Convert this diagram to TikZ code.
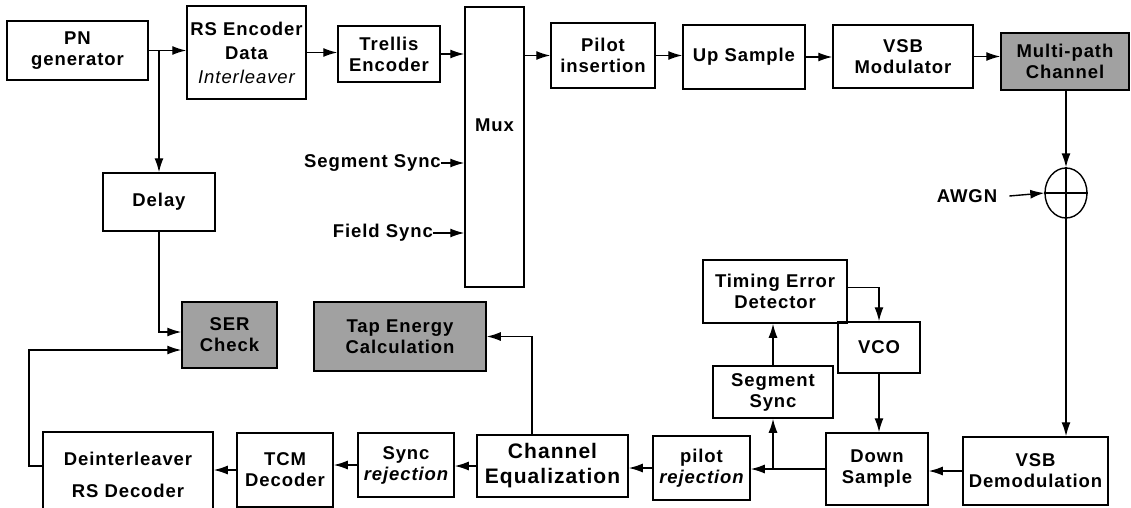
\documentclass[tikz,border=0pt]{standalone}
\usepackage{fontspec}
\setmainfont{Liberation Sans}[LetterSpace=5.0]
\usetikzlibrary{arrows.meta,shapes.geometric}
\begin{document}
\begin{tikzpicture}[x=1pt,y=-1pt,
  blk/.style={draw, line width=1.5pt, inner sep=1pt, align=center,
    font=\fontsize{18.5}{21}\selectfont\bfseries},
  shaded/.style={blk, fill=black!37},
  arr/.style={-{Latex[length=14pt,width=9pt]}, line width=1.4pt},
  wire/.style={line width=1.4pt},
  lbl/.style={inner sep=0pt, font=\fontsize{18.5}{21}\selectfont\bfseries}]
\useasboundingbox (0,0) rectangle (1131,508);

% transmitter chain
\node[blk, minimum width=141, minimum height=59] (pn) at (77.5,50.5) {PN\\generator};
\node[blk, minimum width=119, minimum height=93] (rs) at (246.5,52.5)
  {RS Encoder\\[3pt]Data\\[3pt]{\mdseries\itshape Interleaver}};
\node[blk, minimum width=102, minimum height=56] (trellis) at (389,54) {Trellis\\Encoder};
\node[blk, minimum width=59, minimum height=280] (mux) at (494.5,147) {};
\node[lbl] (muxlabel) at (494.5,125) {Mux};
\node[blk, minimum width=104, minimum height=65] (pilot) at (603,55.5) {Pilot\\insertion};
\node[blk, minimum width=122, minimum height=64] (up) at (744,57) {Up Sample};
\node[blk, minimum width=140, minimum height=63] (vsbmod) at (903,56.5) {VSB\\Modulator};
\node[shaded, minimum width=128, minimum height=57] (mpc) at (1065,61.5) {Multi-path\\Channel};

% noise adder
\node[draw, ellipse, line width=1.4pt, minimum width=42, minimum height=50, inner sep=0pt]
  (adder) at (1066,193) {};
\node[lbl] (awgn) at (967,196) {AWGN};

% sync inputs of the multiplexer
\node[lbl, anchor=east] (segin) at (441,163) {Segment Sync};
\node[lbl, anchor=east] (fieldin) at (433,233) {Field Sync};

% reference path and checks
\node[blk, minimum width=112, minimum height=58] (delay) at (159,202) {Delay};
\node[shaded, minimum width=95, minimum height=66] (ser) at (229.5,335) {SER\\Check};
\node[shaded, minimum width=172, minimum height=69] (tap) at (400,336.5) {Tap Energy\\Calculation};

% timing recovery
\node[blk, minimum width=144, minimum height=63] (ted) at (775,291.5) {Timing Error\\Detector};
\node[blk, minimum width=82, minimum height=51] (vco) at (879,347.5) {VCO};
\node[blk, minimum width=120, minimum height=52] (segsync) at (773,392) {Segment\\Sync};

% receiver chain
\node[blk, minimum width=170, minimum height=86] (deint) at (128,475)
  {Deinterleaver\\[11pt]RS Decoder};
\node[blk, minimum width=96, minimum height=74] (tcm) at (285,470) {TCM\\Decoder};
\node[blk, minimum width=96, minimum height=64] (syncrej) at (406,465)
  {Sync\\{\itshape rejection}};
\node[blk, minimum width=151, minimum height=62, font=\fontsize{21}{25}\selectfont\bfseries]
  (chaneq) at (552.5,466) {Channel\\Equalization};
\node[blk, minimum width=97, minimum height=64] (pilotrej) at (701.5,468)
  {pilot\\{\itshape rejection}};
\node[blk, minimum width=102, minimum height=72] (down) at (877,469) {Down\\Sample};
\node[blk, minimum width=145, minimum height=68] (vsbd) at (1035.5,471) {VSB\\Demodulation};

\coordinate (loopL) at (29,400);

% transmitter connections
\draw[arr] (pn.east) -- (pn.east -| rs.west);
\draw[arr] (rs.east) -- (rs.east -| trellis.west);
\draw[arr] (trellis.east) -- (trellis.east -| mux.west);
\draw[arr] (mux.east |- pilot.west) -- (pilot.west);
\draw[arr] (pilot.east) -- (pilot.east -| up.west);
\draw[arr] (up.east) -- (up.east -| vsbmod.west);
\draw[arr] (vsbmod.east) -- (vsbmod.east -| mpc.west);
\draw[arr] (segin.east) -- (segin.east -| mux.west);
\draw[arr] (fieldin.east) -- (fieldin.east -| mux.west);

% channel and noise
\draw[arr] (adder.north |- mpc.south) -- (adder.north);
\draw[arr] ([xshift=12pt]awgn.east) -- (adder.west);
\draw[wire] (adder.north) -- (adder.south);
\draw[wire] (adder.west) -- (adder.east);
\draw[arr] (adder.south) -- (adder.south |- vsbd.north);

% reference and error checks
\draw[arr] (pn.east -| delay.north) -- (delay.north);
\draw[arr] (delay.south) |- ([yshift=3pt]ser.west);
\draw[arr] ([yshift=9pt]deint.west) -| (loopL) |- ([yshift=-15pt]ser.west);
\draw[arr] ([xshift=-20.5pt]chaneq.north) |- (tap.east);

% receiver connections
\draw[arr] (vsbd.west) -- (vsbd.west -| down.east);
\draw[arr] (down.west) -- (down.west -| pilotrej.east);
\draw[arr] (down.west -| segsync.south) -- (segsync.south);
\draw[arr] (segsync.north) -- (segsync.north |- ted.south);
\draw[arr] ([yshift=4pt]ted.east) -| (vco.north);
\draw[arr] (vco.south) -- (vco.south |- down.north);
\draw[arr] (pilotrej.west) -- (pilotrej.west -| chaneq.east);
\draw[arr] (chaneq.west) -- (chaneq.west -| syncrej.east);
\draw[arr] (syncrej.west) -- (syncrej.west -| tcm.east);
\draw[arr] (tcm.west) -- (tcm.west -| deint.east);
\end{tikzpicture}
\end{document}
